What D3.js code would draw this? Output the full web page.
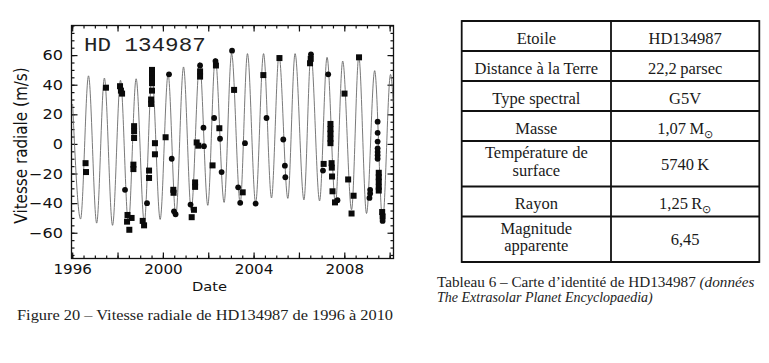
<!DOCTYPE html>
<html>
<head>
<meta charset="utf-8">
<script src="https://cdn.jsdelivr.net/npm/d3@7"></script>
<style>
body { margin: 0; background: #fff; }
svg { display: block; }
</style>
</head>
<body>
<svg id="fig" width="769" height="363"></svg>
<script>
// ---- data ----
// fitted curve: start, then alternating troughs / peaks (year, m/s)
var curveYear = [1996.02, 1996.37, 1996.72, 1997.08, 1997.42, 1997.78, 1998.13, 1998.48, 1998.82,
    1999.18, 1999.52, 1999.88, 2000.23, 2000.57, 2000.91, 2001.25, 2001.62, 2001.98, 2002.31,
    2002.70, 2003.03, 2003.41, 2003.73, 2004.09, 2004.44, 2004.79, 2005.12, 2005.51, 2005.83,
    2006.22, 2006.53, 2006.91, 2007.24, 2007.61, 2007.93, 2008.32, 2008.64, 2008.98, 2009.34,
    2009.69, 2010.04, 2010.16];
var curveVel = [27, -50.7, 46, -53.5, 44.5, -55, 43, -54, 44,
    -53, 46, -51, 47, -48.5, 52, -45, 55, -41.5, 58,
    -39.5, 61, -40, 61, -40, 61, -36.5, 60, -36.8, 61,
    -37.8, 61, -38.5, 58.5, -40.5, 56, -44.5, 59, -47, 49.5,
    -51.8, 47, 28];

// square markers
var sqYear = [1996.59, 1996.61, 1997.49, 1998.11, 1998.15, 1998.20, 1998.44, 1998.42, 1998.62, 1998.52,
    1998.73, 1998.73, 1998.73, 1998.70, 1998.70, 1999.11, 1999.17, 1999.39, 1999.39,
    1999.52, 1999.52, 1999.52, 1999.52, 1999.52, 1999.48, 1999.48, 1999.65, 1999.65,
    2000.12, 2000.46, 2000.47, 2001.37, 2001.27, 2001.42, 2001.42, 2001.49, 2001.56,
    2001.64, 2001.64, 2002.19, 2002.49, 2002.34, 2003.14, 2003.52, 2004.43, 2005.14,
    2006.52, 2006.49, 2007.39, 2007.39, 2007.39, 2007.39, 2007.39, 2007.09, 2007.44,
    2007.45, 2007.46, 2007.48, 2007.59, 2008.01, 2008.17, 2008.32, 2008.41, 2008.65,
    2009.52, 2009.52, 2009.52, 2009.52, 2009.52, 2009.67, 2009.69];
var sqVel = [-13, -19, 38, 39, 36, 34, -48, -52.5, -50, -58,
    12, 8.5, 4, -14, -17, -52, -55, -18, -23,
    50, 47, 44, 41, 36, 30, 27, 0.5, -7,
    4.5, -31, -33, -44.5, -49.5, -26, -29, 1, -1.2,
    49, 45.5, -14.5, 10.6, 53, 36.5, -32.7, 46.5, 58,
    57.5, 54.5, 13.5, 10, 7, 3.5, 0.5, -13.5, -13,
    -16, -22, -32, -39.5, 34, -24, -47, -35, 58.5,
    -19.5, -22.5, -25.5, -29, -31.5, -46, -49];

// round markers
var ciYear = [1998.33, 1999.30, 2000.27, 2000.39, 2000.49, 2000.56, 2001.22, 2001.64, 2001.79, 2001.81,
    2002.26, 2002.32, 2002.52, 2002.59, 2003.05, 2003.32, 2003.41, 2003.62, 2004.09, 2004.57,
    2005.31, 2005.38, 2005.40, 2006.53, 2007.06, 2007.29, 2007.70, 2009.14, 2009.14, 2009.11,
    2009.47, 2009.47, 2009.47, 2009.47, 2009.47, 2009.47, 2009.47, 2009.69];
var ciVel = [-31, -40, 47, -10, -45.5, -47.5, -41, 53, 11, -1.5,
    17.5, 56, 3.5, -19, 63, -29.3, -39.8, 0.5, -40.3, 17.5,
    3, -14.7, -22.5, 60.5, -18, 47, -38, -31, -33.5, -36.5,
    15, 7.5, 1.6, -3, -5.4, -7.6, -10, -52];

// axis ticks
var xLabelYears = [1996, 2000, 2004, 2008];
var xMajorYears = [1996, 1998, 2000, 2002, 2004, 2006, 2008, 2010];
var yLabelVals = [-60, -40, -20, 0, 20, 40, 60];

// table
var rowNames = [['Etoile'], ['Distance à la Terre'], ['Type spectral'], ['Masse'],
    ['Température de', 'surface'], ['Rayon'], ['Magnitude', 'apparente']];
var rowValues = ['HD134987', '22,2\u2009parsec', 'G5V', '1,07\u2009M', '5740\u2009K', '1,25\u2009R', '6,45'];
var rowSun = [false, false, false, true, false, true, false];

var svg = d3.select('#fig');

// ---- chart ----
var plot = {l: 71.5, r: 393.5, t: 25.5, b: 258.5};

var x = d3.scaleLinear().domain([1995.97, 2010.17]).range([plot.l, plot.r]);
var y = d3.scaleLinear().domain([-77.4, 80]).range([plot.b, plot.t]);

svg.append('clipPath').attr('id', 'clip')
    .append('rect')
    .attr('x', plot.l).attr('y', plot.t)
    .attr('width', plot.r - plot.l).attr('height', plot.b - plot.t);

var chartG = svg.append('g');

var xMinor = d3.range(1996, 2010.2, 0.5);
var yMinor = d3.range(-75, 81, 5);

function noDomain(g) { g.select('.domain').remove(); }

// bottom + top ticks (inward)
chartG.append('g').attr('transform', 'translate(0,' + plot.b + ')')
    .call(d3.axisBottom(x).tickValues(xMinor).tickSize(-3).tickFormat(''))
    .call(noDomain);
chartG.append('g').attr('transform', 'translate(0,' + plot.t + ')')
    .call(d3.axisTop(x).tickValues(xMinor).tickSize(-3).tickFormat(''))
    .call(noDomain);
chartG.append('g').attr('transform', 'translate(0,' + plot.t + ')')
    .call(d3.axisTop(x).tickValues(xMajorYears).tickSize(-6).tickFormat(''))
    .call(noDomain);
var xAxis = chartG.append('g').attr('transform', 'translate(0,' + plot.b + ')')
    .call(d3.axisBottom(x).tickValues(xMajorYears).tickSize(-6).tickPadding(6)
        .tickFormat(function(d) { return xLabelYears.indexOf(d) >= 0 ? d : ''; }))
    .call(noDomain);

// left + right ticks
chartG.append('g').attr('transform', 'translate(' + plot.l + ',0)')
    .call(d3.axisLeft(y).tickValues(yMinor).tickSize(-3).tickFormat(''))
    .call(noDomain);
chartG.append('g').attr('transform', 'translate(' + plot.r + ',0)')
    .call(d3.axisRight(y).tickValues(yMinor).tickSize(-3).tickFormat(''))
    .call(noDomain);
chartG.append('g').attr('transform', 'translate(' + plot.r + ',0)')
    .call(d3.axisRight(y).tickValues(yLabelVals).tickSize(-6).tickFormat(''))
    .call(noDomain);
var yAxis = chartG.append('g').attr('transform', 'translate(' + plot.l + ',0)')
    .call(d3.axisLeft(y).tickValues(yLabelVals).tickSize(-6).tickPadding(8.5))
    .call(noDomain);

chartG.selectAll('.tick line').attr('stroke', '#111').attr('stroke-width', 1.2);

xAxis.selectAll('text')
    .attr('font-family', 'DejaVu Sans').attr('font-size', 14).attr('fill', '#111')
    .attr('transform', 'scale(1.08,1)');
yAxis.selectAll('text')
    .attr('font-family', 'DejaVu Sans').attr('font-size', 14).attr('fill', '#111')
    .attr('x', -8.5 / 1.15)
    .attr('transform', 'scale(1.15,1)');

// frame
chartG.append('rect')
    .attr('x', plot.l).attr('y', plot.t)
    .attr('width', plot.r - plot.l).attr('height', plot.b - plot.t)
    .attr('fill', 'none').attr('stroke', '#111').attr('stroke-width', 1.3);

// curve
var curveData = curveYear.map(function(d, i) { return {year: d, v: curveVel[i]}; });
var line = d3.line()
    .x(function(d) { return x(d.year); })
    .y(function(d) { return y(d.v); })
    .curve(d3.curveMonotoneX);

chartG.append('path')
    .datum(curveData)
    .attr('clip-path', 'url(#clip)')
    .attr('d', line)
    .attr('fill', 'none')
    .attr('stroke', '#6a6a6a')
    .attr('stroke-width', 0.9);

// measurements
var sqSize = 6;
chartG.append('g').selectAll('rect')
    .data(sqYear.map(function(d, i) { return {year: d, v: sqVel[i]}; }))
    .enter().append('rect')
    .attr('x', function(d) { return x(d.year) - sqSize / 2; })
    .attr('y', function(d) { return y(d.v) - sqSize / 2; })
    .attr('width', sqSize).attr('height', sqSize)
    .attr('fill', '#0a0a0a');

chartG.append('g').selectAll('circle')
    .data(ciYear.map(function(d, i) { return {year: d, v: ciVel[i]}; }))
    .enter().append('circle')
    .attr('cx', function(d) { return x(d.year); })
    .attr('cy', function(d) { return y(d.v); })
    .attr('r', 2.9)
    .attr('fill', '#0a0a0a');

// labels
chartG.append('text')
    .attr('x', 84).attr('y', 51.5)
    .attr('font-family', 'Liberation Mono').attr('font-size', 20.5)
    .attr('fill', '#222')
    .attr('transform', 'translate(84,0) scale(1.1,1) translate(-84,0)')
    .text('HD 134987');

chartG.append('text')
    .attr('transform', 'translate(209.5,290.5) scale(1.13,1)')
    .attr('text-anchor', 'middle')
    .attr('font-family', 'DejaVu Sans').attr('font-size', 13).attr('fill', '#111')
    .text('Date');

chartG.append('text')
    .attr('transform', 'translate(26.5,145.5) rotate(-90) scale(1,1.15)')
    .attr('text-anchor', 'middle')
    .attr('font-family', 'DejaVu Sans').attr('font-size', 15.2).attr('fill', '#111')
    .text('Vitesse radiale (m/s)');

svg.append('text')
    .attr('x', 17).attr('y', 320)
    .attr('font-family', 'Liberation Serif').attr('font-size', 15)
    .attr('fill', '#222')
    .attr('textLength', 376).attr('lengthAdjust', 'spacingAndGlyphs')
    .text('Figure 20 – Vitesse radiale de HD134987 de 1996 à 2010');

// ---- table ----
var tab = {l: 461.7, mid: 611, r: 759.3, t: 21};
var lineH = 30, extraH = 15.5, lineStep = 17.5;
var rowTops = [];
var yy = tab.t;
rowNames.forEach(function(n) {
    rowTops.push(yy);
    yy += lineH + (n.length - 1) * extraH;
});
var tabBottom = yy;

var tableG = svg.append('g')
    .attr('font-family', 'Liberation Serif').attr('font-size', 16.5).attr('fill', '#1a1a1a');

rowNames.forEach(function(n, i) {
    var h = lineH + (n.length - 1) * extraH;
    var c = rowTops[i] + h / 2;
    n.forEach(function(s, k) {
        var base = n.length === 1 ? c + 7.5 : c - 5.5 + k * lineStep;
        tableG.append('text')
            .attr('x', (tab.l + tab.mid) / 2).attr('y', base)
            .attr('text-anchor', 'middle')
            .text(s);
    });
    var v = tableG.append('text')
        .attr('x', (tab.mid + tab.r) / 2)
        .attr('y', n.length === 1 ? c + 7.5 : c + 6)
        .attr('text-anchor', 'middle');
    v.append('tspan').text(rowValues[i]);
    if (rowSun[i]) {
        v.append('tspan').attr('font-size', 11).attr('dy', 4).text('\u2299');
    }
});

// table lines
var lineG = svg.append('g').attr('stroke', '#111').attr('stroke-width', 1.8);
rowTops.concat([tabBottom]).forEach(function(t) {
    lineG.append('line').attr('x1', tab.l).attr('x2', tab.r).attr('y1', t).attr('y2', t);
});
[tab.l, tab.mid, tab.r].forEach(function(xx) {
    lineG.append('line').attr('x1', xx).attr('x2', xx).attr('y1', tab.t - 0.9).attr('y2', tabBottom + 0.9);
});

// table caption
var cap = svg.append('g').attr('font-family', 'Liberation Serif').attr('fill', '#222');
var cap1 = cap.append('text').attr('x', 437).attr('y', 287).attr('font-size', 15.2);
cap1.append('tspan').text('Tableau 6 – Carte d’identité de HD134987 ');
cap1.append('tspan').attr('font-style', 'italic').text('(données');
cap.append('text').attr('x', 437).attr('y', 301.5)
    .attr('font-size', 14)
    .attr('font-style', 'italic')
    .text('The Extrasolar Planet Encyclopaedia)');
</script>
</body>
</html>
